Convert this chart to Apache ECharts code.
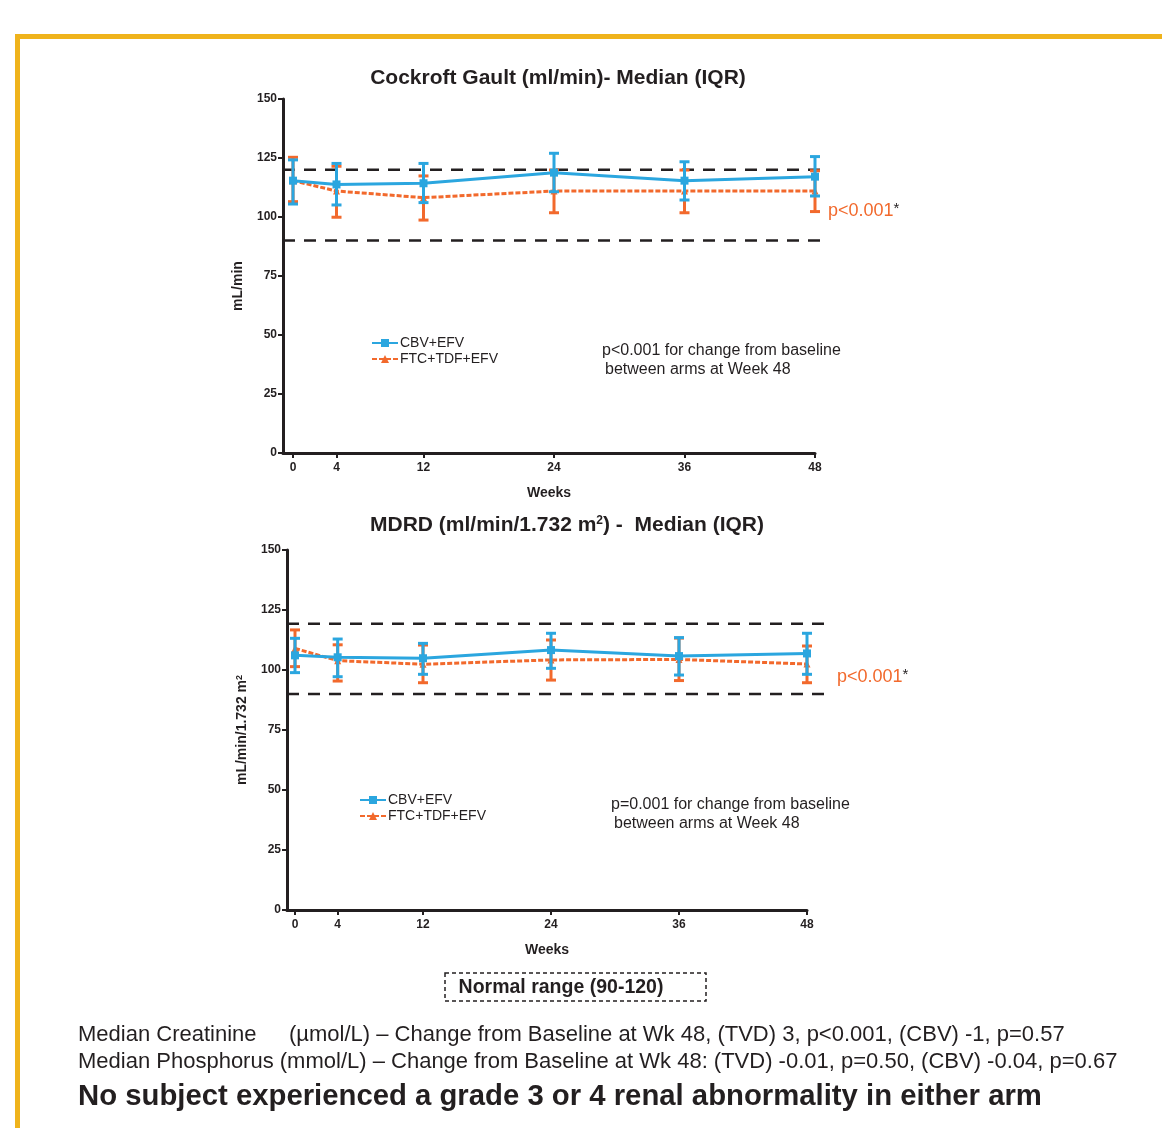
<!DOCTYPE html>
<html>
<head>
<meta charset="utf-8">
<script src="https://cdn.jsdelivr.net/npm/echarts@6/dist/echarts.min.js"></script>
<style>
html,body{margin:0;padding:0;background:#fff;}
#chart{width:1162px;height:1128px;}
</style>
</head>
<body>
<div id="chart"></div>
<script>
// ---- data ----
var weeks = [0, 4, 12, 24, 36, 48];
var weekTicks = [0, 4, 12, 24, 36, 48];
var seriesNames = ['CBV+EFV', 'FTC+TDF+EFV'];

var cgCbvMedian = [115.4, 113.8, 114.3, 118.8, 115.4, 117.1];
var cgCbvQ1     = [105.5, 105.1, 106.1, 110.7, 107.2, 108.9];
var cgCbvQ3     = [124.2, 122.7, 122.7, 127.0, 123.4, 125.6];
var cgFtcMedian = [115.4, 111.0, 108.2, 111.0, 111.0, 111.0];
var cgFtcQ1     = [106.5, 99.9, 98.7, 101.8, 101.8, 102.3];
var cgFtcQ3     = [125.3, 121.5, 117.4, 119.9, 119.9, 119.6];

var mdCbvMedian = [106.1, 105.3, 104.9, 108.3, 105.8, 106.9];
var mdCbvQ1     = [98.9, 97.2, 98.2, 100.7, 97.9, 98.2];
var mdCbvQ3     = [113.2, 112.9, 111.1, 115.3, 113.5, 115.3];
var mdFtcMedian = [109.0, 103.9, 102.4, 104.2, 104.4, 102.5];
var mdFtcQ1     = [101.4, 95.4, 94.7, 95.8, 95.6, 94.7];
var mdFtcQ3     = [116.7, 110.5, 110.4, 112.5, 113.3, 110.0];

var cgNormal = [90, 120];
var mdNormal = [90, 119.3];
var cgNormalX = [-0.92, 49.0];
var mdNormalX = [-0.75, 50.1];

// ---- styles ----
var BLUE = '#2ba6df';
var ORANGE = '#f2692c';
var INK = '#231f20';
var FONT = '"Liberation Sans", Arial, sans-serif';

function pairs(xs, ys) { return xs.map(function (x, i) { return [x, ys[i]]; }); }
function triples(xs, lo, hi) { return xs.map(function (x, i) { return [x, lo[i], hi[i]]; }); }

function errorSeries(idx, data, color) {
  return {
    type: 'custom', xAxisIndex: idx, yAxisIndex: idx, silent: true, z: color === BLUE ? 4 : 2,
    data: data,
    renderItem: function (params, api) {
      var lo = api.coord([api.value(0), api.value(1)]);
      var hi = api.coord([api.value(0), api.value(2)]);
      var w = 5;
      var st = { stroke: color, lineWidth: 3 };
      return { type: 'group', children: [
        { type: 'line', shape: { x1: lo[0], y1: lo[1], x2: hi[0], y2: hi[1] }, style: st },
        { type: 'line', shape: { x1: lo[0] - w, y1: lo[1], x2: lo[0] + w, y2: lo[1] }, style: st },
        { type: 'line', shape: { x1: hi[0] - w, y1: hi[1], x2: hi[0] + w, y2: hi[1] }, style: st }
      ]};
    }
  };
}

function normalLines(idx, xr, ys) {
  return {
    type: 'custom', xAxisIndex: idx, yAxisIndex: idx, silent: true, clip: false, z: 1,
    data: ys.map(function (y) { return [xr[0], xr[1], y]; }),
    renderItem: function (params, api) {
      var a = api.coord([api.value(0), api.value(2)]);
      var b = api.coord([api.value(1), api.value(2)]);
      return { type: 'line', shape: { x1: a[0], y1: a[1], x2: b[0], y2: b[1] },
        style: { stroke: INK, lineWidth: 2.5, lineDash: [12, 9] } };
    }
  };
}

function medianSeries(idx, name, data, color) {
  var isBlue = color === BLUE;
  return {
    type: 'line', name: name, xAxisIndex: idx, yAxisIndex: idx, z: isBlue ? 5 : 3,
    data: data,
    symbol: isBlue ? 'rect' : 'triangle',
    symbolSize: isBlue ? 8 : 7,
    itemStyle: { color: color },
    lineStyle: { color: color, width: 3, type: isBlue ? 'solid' : [5, 2] }
  };
}

function xAxis(idx, min) {
  return {
    type: 'value', gridIndex: idx, min: min, max: 48,
    name: 'Weeks', nameLocation: 'middle', nameGap: 33,
    nameTextStyle: { fontFamily: FONT, fontWeight: 'bold', fontSize: 14, color: INK },
    axisLine: { onZero: false, lineStyle: { color: INK, width: 3 } },
    axisTick: { show: true, length: 5, lineStyle: { color: INK, width: 2 }, customValues: weekTicks },
    axisLabel: { customValues: weekTicks, fontFamily: FONT, fontWeight: 'bold', fontSize: 12, color: INK, margin: 9 },
    splitLine: { show: false }
  };
}

function yAxis(idx, name, gap, pad) {
  return {
    type: 'value', gridIndex: idx, min: 0, max: 150, interval: 25,
    name: name, nameLocation: 'middle', nameGap: gap, nameRotate: 90,
    nameTextStyle: { fontFamily: FONT, fontWeight: 'bold', fontSize: 14, color: INK, padding: pad,
      rich: { sup: { fontFamily: FONT, fontWeight: 'bold', fontSize: 9, color: INK, verticalAlign: 'top', padding: [0, 0, 6, 0] } } },
    axisLine: { show: true, onZero: false, lineStyle: { color: INK, width: 3 } },
    axisTick: { show: true, length: 5, lineStyle: { color: INK, width: 2 } },
    axisLabel: { fontFamily: FONT, fontWeight: 'bold', fontSize: 12, color: INK, margin: 6 },
    splitLine: { show: false }
  };
}

var chart = echarts.init(document.getElementById('chart'), null, { renderer: 'canvas' });

var option = {
  animation: false,
  backgroundColor: '#fff',
  title: [
    { text: 'Cockroft Gault (ml/min)- Median (IQR)', left: 553, top: 63, textAlign: 'center',
      textStyle: { fontFamily: FONT, fontWeight: 'bold', fontSize: 21, color: INK } },
    { text: 'MDRD (ml/min/1.732 m{sup|2}) -  Median (IQR)', left: 562, top: 510, textAlign: 'center',
      textStyle: { fontFamily: FONT, fontWeight: 'bold', fontSize: 21, color: INK,
        rich: { sup: { fontFamily: FONT, fontWeight: 'bold', fontSize: 12, color: INK, verticalAlign: 'top', padding: [0, 0, 9, 0] } } } }
  ],
  grid: [
    { left: 283, right: 347, top: 99, height: 354 },
    { left: 287, right: 355, top: 550, height: 360 }
  ],
  xAxis: [xAxis(0, -0.92), xAxis(1, -0.75)],
  yAxis: [yAxis(0, 'mL/min', 38, [0, 20, 0, 0]), yAxis(1, 'mL/min/1.732 m{sup|2}', 37, [0, 0, 0, 0])],
  legend: [
    { left: 366, top: 331, orient: 'vertical', itemGap: 2, itemWidth: 26, itemHeight: 10,
      data: seriesNames, selectedMode: false,
      textStyle: { fontFamily: FONT, fontSize: 14, color: INK, padding: [0, 0, 0, -3] } },
    { left: 354, top: 788, orient: 'vertical', itemGap: 2, itemWidth: 26, itemHeight: 10,
      data: seriesNames, selectedMode: false,
      textStyle: { fontFamily: FONT, fontSize: 14, color: INK, padding: [0, 0, 0, -3] } }
  ],
  series: [
    normalLines(0, cgNormalX, cgNormal),
    normalLines(1, mdNormalX, mdNormal),
    errorSeries(0, triples(weeks, cgFtcQ1, cgFtcQ3), ORANGE),
    medianSeries(0, seriesNames[1], pairs(weeks, cgFtcMedian), ORANGE),
    errorSeries(0, triples(weeks, cgCbvQ1, cgCbvQ3), BLUE),
    medianSeries(0, seriesNames[0], pairs(weeks, cgCbvMedian), BLUE),
    errorSeries(1, triples(weeks, mdFtcQ1, mdFtcQ3), ORANGE),
    medianSeries(1, seriesNames[1], pairs(weeks, mdFtcMedian), ORANGE),
    errorSeries(1, triples(weeks, mdCbvQ1, mdCbvQ3), BLUE),
    medianSeries(1, seriesNames[0], pairs(weeks, mdCbvMedian), BLUE)
  ],
  graphic: [
    // yellow frame
    { type: 'rect', shape: { x: 15, y: 34, width: 1150, height: 5 }, style: { fill: '#efb31c' }, silent: true },
    { type: 'rect', shape: { x: 15, y: 34, width: 5, height: 1100 }, style: { fill: '#efb31c' }, silent: true },
    // p-values beside the charts
    { type: 'text', x: 828, y: 211, style: { text: '{p|p<0.001}{s|*}', verticalAlign: 'middle',
      rich: { p: { fontFamily: FONT, fontSize: 18, fill: ORANGE }, s: { fontFamily: FONT, fontSize: 15, fill: INK, verticalAlign: 'top', padding: [0, 0, 4, 0] } } } },
    { type: 'text', x: 837, y: 677, style: { text: '{p|p<0.001}{s|*}', verticalAlign: 'middle',
      rich: { p: { fontFamily: FONT, fontSize: 18, fill: ORANGE }, s: { fontFamily: FONT, fontSize: 15, fill: INK, verticalAlign: 'top', padding: [0, 0, 4, 0] } } } },
    // in-chart annotations
    { type: 'text', x: 602, y: 351, style: { text: 'p<0.001 for change from baseline', fontFamily: FONT, fontSize: 16, fill: INK, verticalAlign: 'middle' } },
    { type: 'text', x: 605, y: 370, style: { text: 'between arms at Week 48', fontFamily: FONT, fontSize: 16, fill: INK, verticalAlign: 'middle' } },
    { type: 'text', x: 611, y: 805, style: { text: 'p=0.001 for change from baseline', fontFamily: FONT, fontSize: 16, fill: INK, verticalAlign: 'middle' } },
    { type: 'text', x: 614, y: 824, style: { text: 'between arms at Week 48', fontFamily: FONT, fontSize: 16, fill: INK, verticalAlign: 'middle' } },
    // Normal range box
    { type: 'rect', shape: { x: 445, y: 973, width: 261, height: 28 }, style: { fill: 'none', stroke: INK, lineWidth: 1.5, lineDash: [4, 3] } },
    { type: 'text', x: 561, y: 988, style: { text: 'Normal range (90-120)', fontFamily: FONT, fontWeight: 'bold', fontSize: 19.5, fill: INK, align: 'center', verticalAlign: 'middle' } },
    // footnotes
    { type: 'text', x: 78, y: 1035, style: { text: 'Median Creatinine', fontFamily: FONT, fontSize: 22, fill: INK, verticalAlign: 'middle' } },
    { type: 'text', x: 289, y: 1035, style: { text: '(\u00b5mol/L) \u2013 Change from Baseline at Wk 48, (TVD) 3, p<0.001, (CBV) -1, p=0.57', fontFamily: FONT, fontSize: 22, fill: INK, verticalAlign: 'middle' } },
    { type: 'text', x: 78, y: 1062, style: { text: 'Median Phosphorus (mmol/L) \u2013 Change from Baseline at Wk 48: (TVD) -0.01, p=0.50, (CBV) -0.04, p=0.67', fontFamily: FONT, fontSize: 22, fill: INK, verticalAlign: 'middle' } },
    { type: 'text', x: 78, y: 1097, style: { text: 'No subject experienced a grade 3 or 4 renal abnormality in either arm', fontFamily: FONT, fontWeight: 'bold', fontSize: 29.3, fill: INK, verticalAlign: 'middle' } }
  ]
};
chart.setOption(option);
</script>
</body>
</html>
